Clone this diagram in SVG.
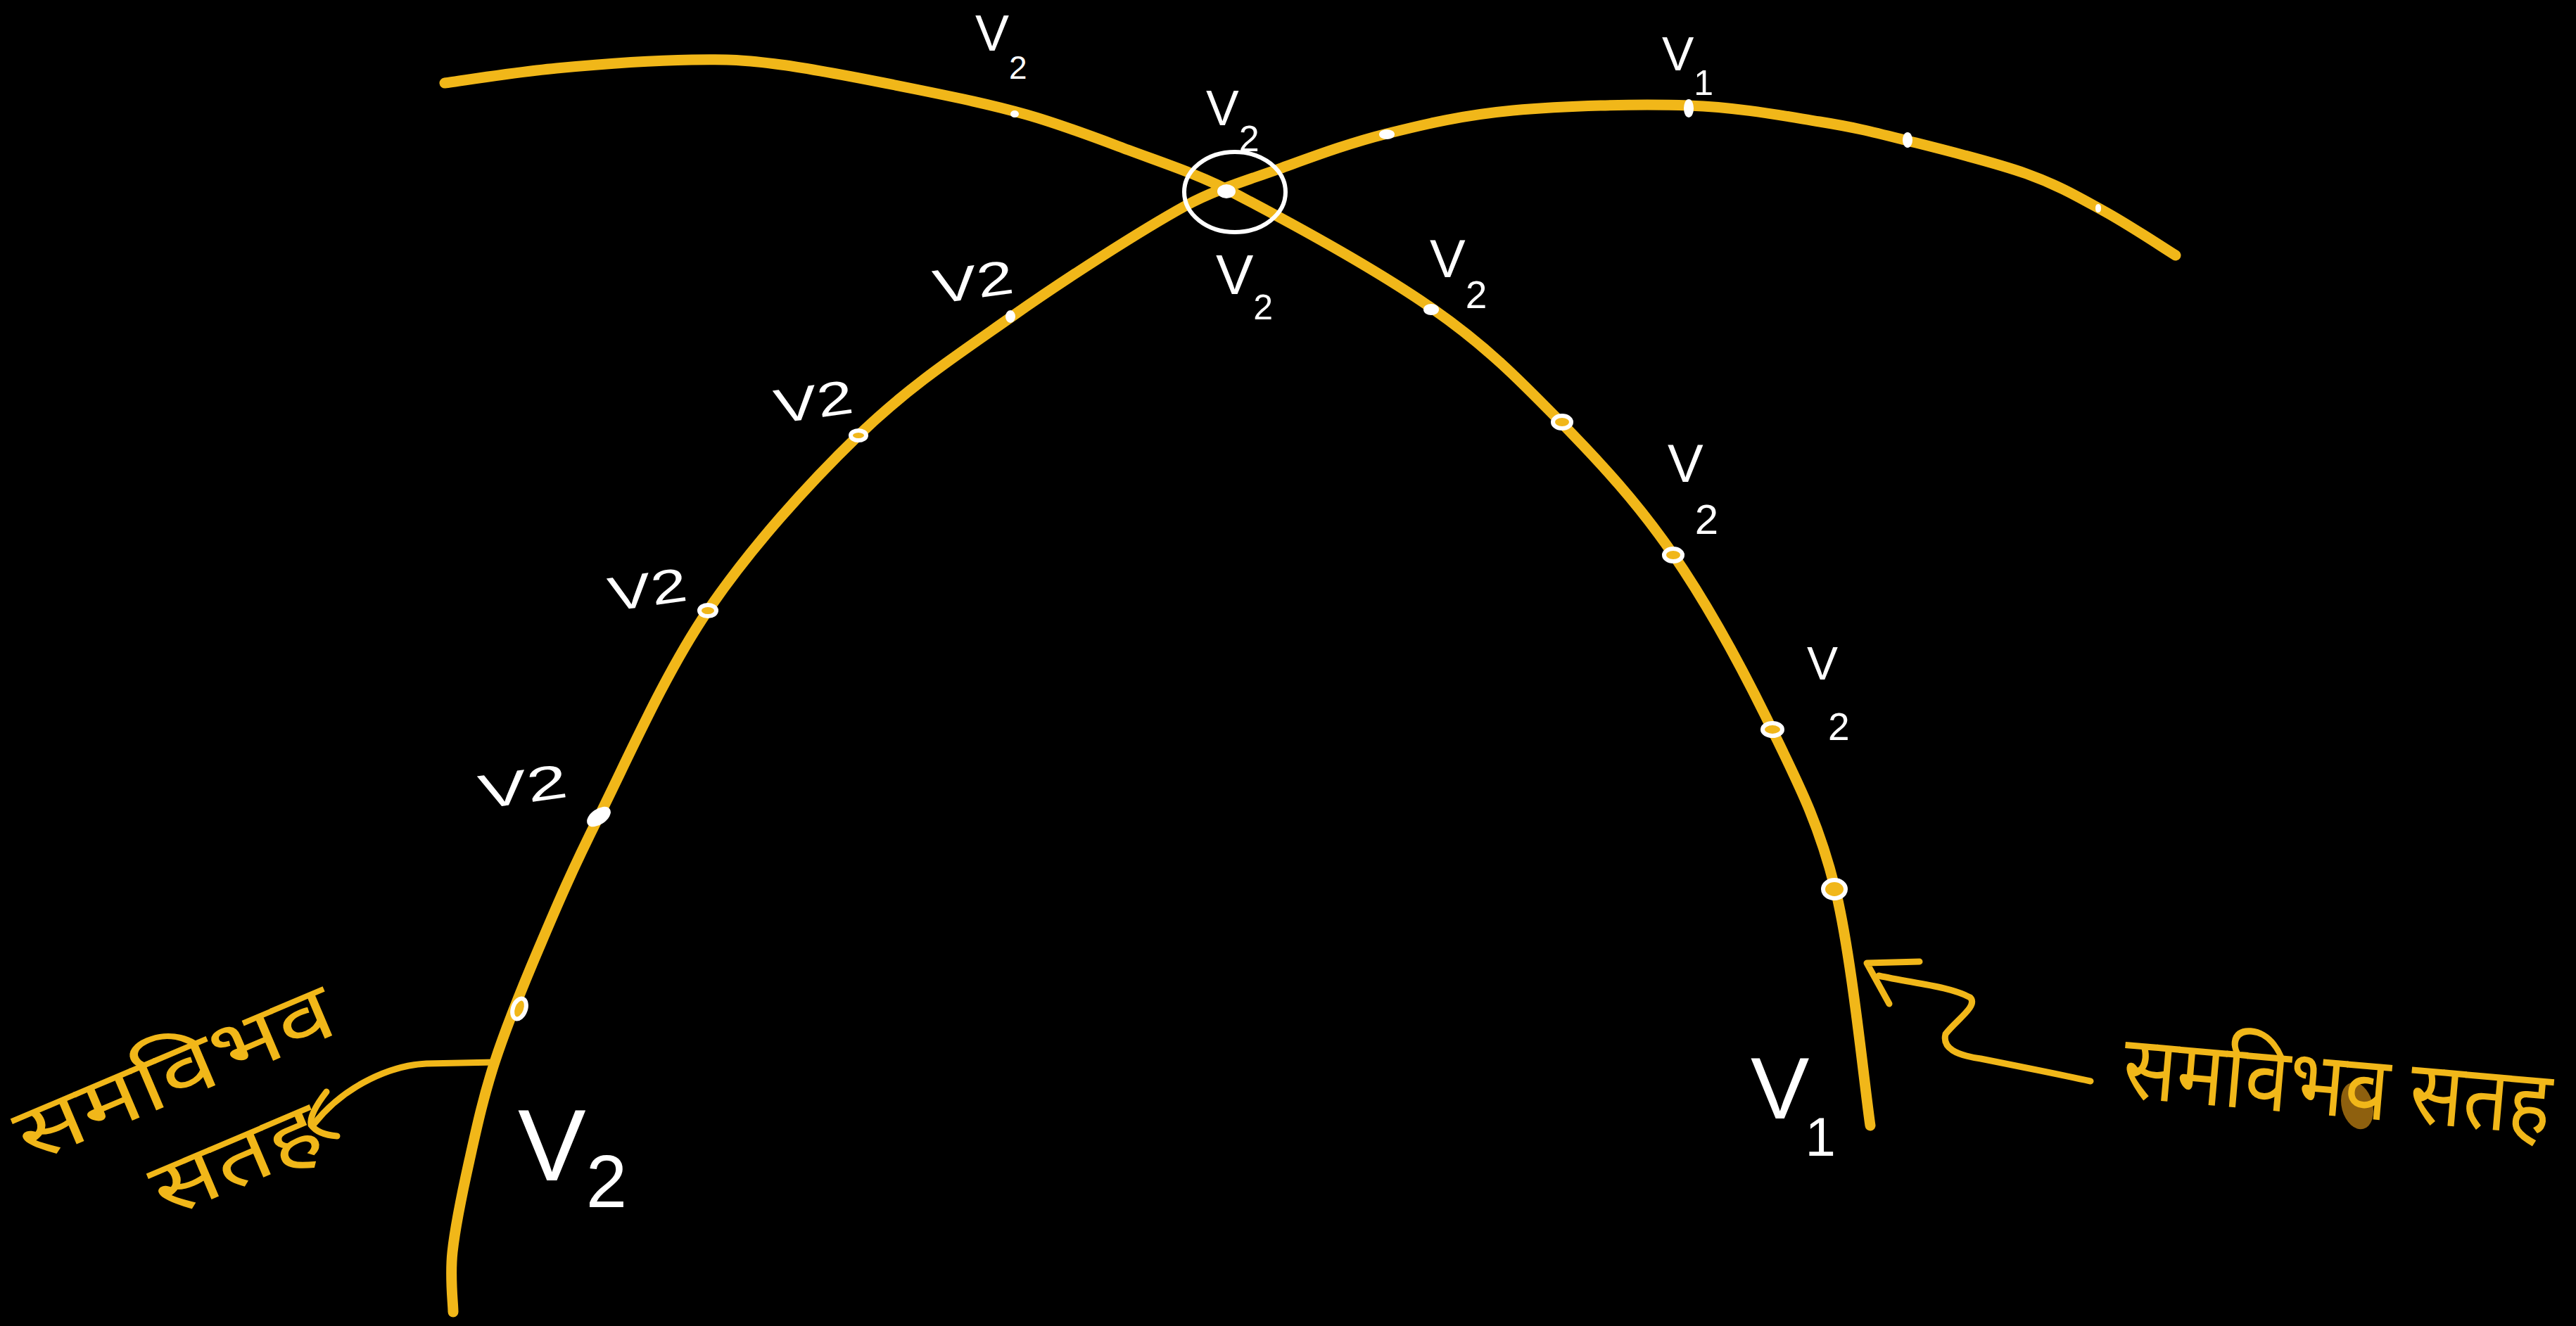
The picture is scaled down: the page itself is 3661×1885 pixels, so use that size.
<svg xmlns="http://www.w3.org/2000/svg" width="3661" height="1885" viewBox="0 0 3661 1885">
<style>
.surf{fill:none;stroke:#F1B719;stroke-width:15;stroke-linecap:round;stroke-linejoin:round}
.pen{fill:none;stroke:#F1B719;stroke-width:9;stroke-linecap:round;stroke-linejoin:round}
.dot{fill:#FFFFFF;stroke:#FFFFFF;stroke-width:4}
.ring{fill:#F1B719;stroke:#FFFFFF;stroke-width:6}
.lbl{font-family:"Liberation Sans","DejaVu Sans",sans-serif;fill:#FFFFFF}
.hin{font-family:"Noto Sans Devanagari","Lohit Devanagari","FreeSans","Noto Sans",sans-serif;fill:#F1B719}
</style>
<rect x="0" y="0" width="3661" height="1885" fill="#000000"/>

<g id="connectors">
  <path id="surfaceA" class="surf" d="M644,1865 C643.8,1850.8 639.2,1815.8 643,1780 C646.8,1744.2 657,1695 667,1650 C677,1605 686.7,1560 703,1510 C719.3,1460 740.3,1408.2 765,1350 C789.7,1291.8 810.8,1241.3 851,1161 C891.2,1080.7 944.5,958.3 1006,868 C1067.5,777.7 1148,688.7 1220,619 C1292,549.3 1360.7,504.3 1438,450 C1515.3,395.7 1620.7,328 1684,293 C1726,269.8 1770.2,257.2 1818,240 C1865.8,222.8 1915.7,203.8 1971,190 C2026.3,176.2 2078.5,163.7 2150,157 C2221.5,150.3 2327.3,147.3 2400,150 C2472.7,152.7 2534.2,164.7 2586,173 C2637.8,181.3 2662,187.7 2711,200 C2760,212.3 2833.5,230.3 2880,247 C2926.5,263.7 2954.7,280.7 2990,300 C3025.3,319.3 3075,352.5 3092,363"/>
  <path id="surfaceB" class="surf" d="M632,118 C658.5,114.5 732.5,102.5 791,97 C849.5,91.5 929.8,85.8 983,85 C1036.2,84.2 1056.8,85 1110,92 C1163.2,99 1243.8,115.2 1302,127 C1360.2,138.8 1408.8,148.7 1459,163 C1509.2,177.3 1555,195 1603,213 C1651,231 1701.2,247.1 1747,271 C1844.6,322 1957.5,384.2 2036,439 C2114.5,493.8 2161.2,542 2218,600 C2274.8,658 2327.2,714.7 2377,787 C2426.8,859.3 2478.5,954.7 2517,1034 C2555.5,1113.3 2584.5,1168.7 2608,1263 C2631.5,1357.3 2649.7,1543.8 2658,1600"/>
  <g id="arrowLeft">
    <path class="pen" d="M703,1510 L606,1512 C560,1514 492,1540 446,1598"/>
    <path class="pen" d="M464,1552 C450,1570 440,1588 442,1599 C450,1610 465,1614 479,1615"/>
  </g>
  <g id="arrowRight">
    <path class="pen" d="M2728,1367 L2653,1369 L2685,1427"/>
    <path class="pen" d="M2670,1387 C2720,1398 2770,1402 2800,1418 C2812,1430 2780,1450 2765,1470 C2760,1490 2780,1500 2815,1505 C2870,1516 2930,1528 2971,1537"/>
  </g>
</g>

<g id="points">
  <ellipse class="dot" cx="1442" cy="162" rx="4" ry="3"/>
  <ellipse class="dot" cx="1743" cy="272" rx="11" ry="8"/>
  <ellipse class="dot" cx="1971" cy="191" rx="9" ry="5"/>
  <ellipse class="dot" cx="2400" cy="154" rx="5" ry="11"/>
  <ellipse class="dot" cx="2711" cy="199" rx="5" ry="9"/>
  <ellipse class="dot" cx="2982" cy="296" rx="2" ry="4"/>
  <ellipse class="dot" cx="2034" cy="440" rx="9" ry="6"/>
  <ellipse class="ring" cx="2220" cy="600" rx="13" ry="9"/>
  <ellipse class="ring" cx="2378" cy="789" rx="13" ry="9"/>
  <ellipse class="ring" cx="2519" cy="1037" rx="14" ry="9"/>
  <ellipse class="ring" cx="2607" cy="1264" rx="16" ry="13"/>
  <ellipse class="dot" cx="1436" cy="450" rx="5" ry="7"/>
  <ellipse class="ring" cx="1220" cy="619" rx="11" ry="7"/>
  <ellipse class="ring" cx="1006" cy="868" rx="12" ry="8"/>
  <ellipse class="dot" cx="851" cy="1161" rx="17" ry="9" transform="rotate(-35 851 1161)"/>
  <ellipse class="ring" cx="738" cy="1434" rx="9" ry="15" transform="rotate(20 738 1434)"/>
  <ellipse id="crossCircle" cx="1755" cy="273" rx="72" ry="57" fill="none" stroke="#FFFFFF" stroke-width="6"/>
</g>

<g id="labels">
  <text class="lbl" x="1386" y="72" font-size="72">V<tspan font-size="46" dy="40">2</tspan></text>
  <text class="lbl" x="2362" y="100" font-size="68">V<tspan font-size="50" dy="35">1</tspan></text>
  <text class="lbl" x="1714" y="178" font-size="70">V<tspan font-size="52" dy="37">2</tspan></text>
  <text class="lbl" x="1728" y="418" font-size="80">V<tspan font-size="50" dy="36">2</tspan></text>
  <text class="lbl" x="2032" y="394" font-size="76">V<tspan font-size="55" dy="44">2</tspan></text>
  <text class="lbl" x="2370" y="685" font-size="76">V<tspan font-size="60" dx="-12" dy="74">2</tspan></text>
  <text class="lbl" x="2568" y="966" font-size="66">V<tspan font-size="55" dx="-14" dy="86">2</tspan></text>
  <text class="lbl" x="1330" y="432" font-size="68" textLength="114" lengthAdjust="spacingAndGlyphs" transform="rotate(-8 1330 432)">V2</text>
  <text class="lbl" x="1104" y="602" font-size="68" textLength="112" lengthAdjust="spacingAndGlyphs" transform="rotate(-8 1104 602)">V2</text>
  <text class="lbl" x="868" y="869" font-size="68" textLength="112" lengthAdjust="spacingAndGlyphs" transform="rotate(-8 868 869)">V2</text>
  <text class="lbl" x="684" y="1150" font-size="68" textLength="126" lengthAdjust="spacingAndGlyphs" transform="rotate(-8 684 1150)">V2</text>
  <text class="lbl" x="736" y="1678" font-size="145">V<tspan font-size="105" dy="38">2</tspan></text>
  <text class="lbl" x="2488" y="1590" font-size="125">V<tspan font-size="78" dx="-6" dy="53">1</tspan></text>
</g>

<g id="hindiLeft">
  <text class="hin" font-size="112" text-anchor="middle" textLength="480" lengthAdjust="spacingAndGlyphs" transform="translate(263 1561) rotate(-23)">समविभव</text>
  <text class="hin" font-size="112" text-anchor="middle" textLength="250" lengthAdjust="spacingAndGlyphs" transform="translate(350 1684) rotate(-23)">सतह</text>
</g>

<g id="hindiRight">
  <ellipse cx="3350" cy="1572" rx="22" ry="34" fill="#8E600E" transform="rotate(-15 3350 1572)"/>
  <text class="hin" x="0" y="0" font-size="114" textLength="610" lengthAdjust="spacingAndGlyphs" transform="translate(3014 1560) rotate(5) scale(1 1.12)">समविभव सतह</text>
</g>
</svg>
